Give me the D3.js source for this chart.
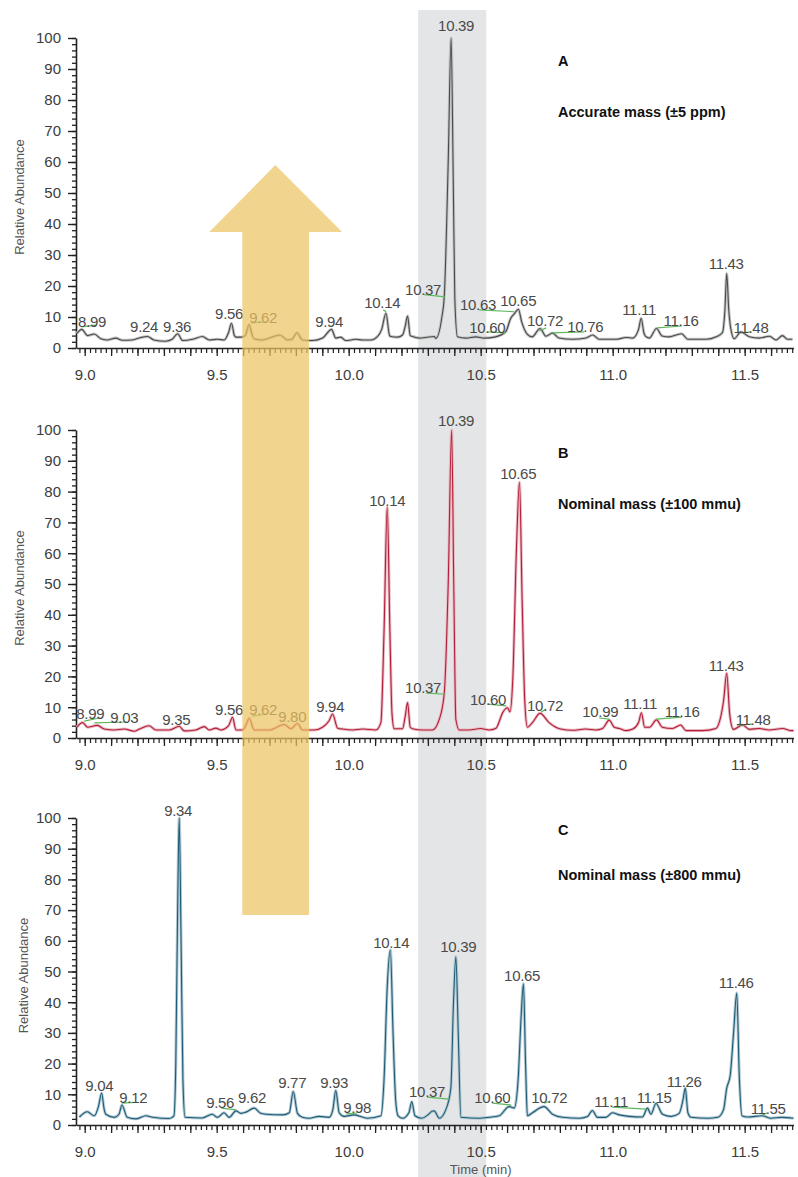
<!DOCTYPE html>
<html>
<head>
<meta charset="utf-8">
<script src="https://cdn.jsdelivr.net/npm/d3@7"></script>
<style>
  html, body { margin: 0; padding: 0; background: #fff; }
  #chart svg { display: block; }
  .tick-label { font-family: "Liberation Sans", Arial, sans-serif; font-size: 15px; fill: #3c3c3c; }
  .peak-label { font-family: "Liberation Sans", Arial, sans-serif; font-size: 15px; fill: #4a4a4a; letter-spacing: -0.3px; }
  .axis-title { font-family: "Liberation Sans", Arial, sans-serif; font-size: 13px; fill: #555; }
  .panel-letter, .panel-title { font-family: "Liberation Sans", Arial, sans-serif; font-weight: bold; font-size: 14.5px; fill: #111; }
</style>
</head>
<body>
<div id="chart"></div>
<script>
// --- 1. DATA ---

// retention time window shared by all three traces
const timeDomain = [8.967, 11.685];
const xTickLabels = [9.0, 9.5, 10.0, 10.5, 11.0, 11.5];
const yTickLabels = [0, 10, 20, 30, 40, 50, 60, 70, 80, 90, 100];

// highlighted window around the 10.39 min peak
const highlightWindow = [10.263, 10.521];

// big arrow: shaft / head edges in minutes, heights in relative abundance
const arrowShaft = [9.597, 9.850];
const arrowHead = [9.472, 9.975, 9.722];
const arrowLevels = { tipA: 59, headBaseA: 37.4, tailC: 68.4 };

const panelLetters = ["A", "B", "C"];
const panelTitles = ["Accurate mass (\u00b15 ppm)", "Nominal mass (\u00b1100 mmu)", "Nominal mass (\u00b1800 mmu)"];

// traces: [time (min), relative abundance]
const traceA = [
  [8.970,4.7],[8.989,6.0],[9.011,4.0],[9.036,4.5],[9.061,3.0],[9.085,2.6],[9.118,3.2],[9.142,2.5],[9.180,2.6],
  [9.213,3.4],[9.238,3.7],[9.262,2.6],[9.306,2.2],[9.331,2.8],[9.352,4.6],[9.371,2.4],[9.409,2.8],[9.446,3.7],
  [9.472,2.6],[9.503,2.8],[9.528,2.6],[9.545,5.0],[9.556,8.0],[9.567,4.0],[9.573,3.5],[9.592,3.5],[9.608,4.0],
  [9.623,7.6],[9.635,4.0],[9.642,3.0],[9.674,2.6],[9.699,3.2],[9.739,4.2],[9.768,2.6],[9.785,2.8],[9.804,4.9],
  [9.825,2.6],[9.863,2.4],[9.901,3.2],[9.935,6.0],[9.951,3.2],[9.970,3.5],[9.989,2.4],[10.027,2.8],[10.052,2.6],
  [10.084,2.6],[10.109,3.7],[10.125,6.0],[10.141,11.2],[10.155,4.0],[10.160,3.7],[10.185,3.5],[10.204,4.2],
  [10.214,7.0],[10.223,10.3],[10.233,4.0],[10.242,3.7],[10.268,3.2],[10.292,3.4],[10.324,3.7],[10.330,3.1],
  [10.353,10.0],[10.362,16.5],[10.377,60],[10.388,100],[10.396,55],[10.402,16],[10.412,3.6],[10.444,3.2],
  [10.482,3.6],[10.513,3.2],[10.557,3.6],[10.595,5.3],[10.614,9.6],[10.627,11.0],[10.643,12.5],[10.655,8.5],
  [10.677,4.4],[10.695,3.6],[10.725,6.3],[10.747,3.8],[10.772,4.8],[10.797,3.2],[10.848,2.8],[10.899,3.2],
  [10.924,4.2],[10.949,2.8],[11.013,2.8],[11.051,3.4],[11.076,3.2],[11.098,6.0],[11.108,9.6],[11.118,5.0],
  [11.124,3.8],[11.139,3.2],[11.166,6.3],[11.187,3.9],[11.212,3.6],[11.261,4.6],[11.285,2.8],[11.354,2.8],
  [11.392,3.6],[11.416,5.0],[11.425,12],[11.432,24],[11.440,12],[11.447,6.5],[11.460,3.0],[11.486,5.2],
  [11.518,3.6],[11.556,3.2],[11.594,3.8],[11.619,2.6],[11.643,4.0],[11.662,2.8],[11.681,2.8]
];

const traceB = [
  [8.970,3.5],[8.992,5.0],[9.011,3.5],[9.048,4.1],[9.074,2.9],[9.112,2.6],[9.150,2.9],[9.188,2.2],[9.207,2.9],
  [9.244,4.0],[9.270,2.6],[9.320,2.6],[9.358,3.8],[9.377,2.3],[9.421,2.6],[9.453,3.7],[9.472,2.6],[9.497,3.2],
  [9.516,2.6],[9.545,4.0],[9.560,6.7],[9.573,2.6],[9.598,2.6],[9.610,4.0],[9.623,6.4],[9.642,2.6],[9.699,2.6],
  [9.756,4.4],[9.781,3.0],[9.806,4.7],[9.825,2.6],[9.869,2.6],[9.901,3.5],[9.925,5.5],[9.939,7.8],[9.958,3.2],
  [9.977,2.9],[10.015,2.6],[10.053,2.9],[10.103,2.6],[10.122,5.0],[10.134,35],[10.146,75],[10.156,35],
  [10.164,8.0],[10.172,3.0],[10.204,3.0],[10.214,7.0],[10.223,11.5],[10.233,3.5],[10.242,3.0],[10.280,2.6],
  [10.317,2.6],[10.343,6.0],[10.362,14.5],[10.377,50],[10.390,100],[10.398,50],[10.406,6.0],[10.419,2.6],
  [10.456,2.6],[10.500,3.1],[10.532,2.6],[10.557,3.1],[10.585,8.5],[10.601,9.8],[10.611,8.5],[10.622,20],
  [10.635,60],[10.647,83],[10.657,45],[10.667,12],[10.677,3.5],[10.696,5.0],[10.725,8.0],[10.759,5.0],
  [10.803,2.9],[10.847,2.5],[10.898,2.9],[10.936,2.6],[10.962,3.1],[10.987,5.8],[11.006,3.5],[11.025,3.1],
  [11.051,2.4],[11.076,2.9],[11.098,5.0],[11.109,8.2],[11.121,3.5],[11.140,3.5],[11.166,5.9],[11.188,3.5],
  [11.226,3.1],[11.258,4.2],[11.277,2.4],[11.340,2.4],[11.391,3.1],[11.403,4.9],[11.420,12],[11.432,21],
  [11.443,8.0],[11.457,2.8],[11.492,4.2],[11.518,2.8],[11.555,3.1],[11.593,2.6],[11.644,3.1],[11.675,2.4],
  [11.685,2.4]
];

const traceC = [
  [8.980,2.6],[9.010,4.3],[9.036,3.0],[9.052,6.0],[9.064,10.4],[9.074,5.0],[9.080,3.5],[9.112,2.5],[9.130,3.5],
  [9.141,6.5],[9.161,2.5],[9.195,2.0],[9.232,3.0],[9.257,2.5],[9.320,2.1],[9.338,3.0],[9.345,20],[9.352,70],
  [9.358,100],[9.365,60],[9.372,15],[9.380,2.5],[9.445,2.3],[9.483,3.5],[9.503,2.5],[9.528,4.0],[9.547,2.5],
  [9.573,4.6],[9.592,3.8],[9.611,4.2],[9.642,5.5],[9.667,3.8],[9.687,3.5],[9.750,3.3],[9.775,4.0],[9.790,10.9],
  [9.806,3.8],[9.825,2.5],[9.850,2.2],[9.888,2.8],[9.926,2.5],[9.940,5.0],[9.951,11.2],[9.964,4.0],[9.983,2.8],
  [10.021,3.3],[10.071,2.2],[10.122,3.0],[10.134,15],[10.146,45],[10.158,57],[10.168,30],[10.178,8.0],
  [10.187,3.0],[10.204,2.2],[10.228,4.0],[10.239,7.6],[10.251,3.0],[10.277,2.2],[10.300,3.3],[10.316,4.5],
  [10.324,4.6],[10.343,2.2],[10.368,5.0],[10.387,12.0],[10.397,40],[10.406,54.8],[10.415,30],[10.425,2.5],
  [10.495,2.2],[10.532,2.5],[10.570,3.0],[10.608,6.0],[10.627,5.5],[10.642,15],[10.653,35],[10.662,46],
  [10.670,20],[10.677,3.0],[10.696,4.0],[10.740,6.0],[10.772,3.5],[10.810,2.5],[10.873,2.2],[10.905,2.8],
  [10.923,4.7],[10.942,2.5],[10.974,2.5],[10.999,4.0],[11.025,3.3],[11.063,2.8],[11.113,2.6],[11.132,5.5],
  [11.145,3.5],[11.164,7.0],[11.189,3.5],[11.221,2.8],[11.252,3.8],[11.266,8.0],[11.275,12.0],[11.285,4.0],
  [11.297,2.5],[11.360,2.2],[11.398,2.5],[11.420,5.0],[11.432,12],[11.445,16],[11.458,30],[11.470,43],
  [11.480,15],[11.490,3.0],[11.511,2.6],[11.566,3.0],[11.600,2.2],[11.640,2.5],[11.685,2.2]
];

// peak labels: [text, time of text centre, abundance of text baseline]
const labelsA = [
  ["8.99",9.028,6.8],["9.24",9.225,5.2],["9.36",9.350,5.2],["9.56",9.547,9.4],["9.62",9.676,8.1],
  ["9.94",9.926,6.8],["10.14",10.127,12.9],["10.37",10.282,17.2],["10.39",10.407,102.3],["10.63",10.490,12.3],
  ["10.65",10.642,13.6],["10.60",10.525,4.9],["10.72",10.744,7.1],["10.76",10.896,5.2],["11.11",11.100,10.7],
  ["11.16",11.259,7.1],["11.43",11.430,25.6],["11.48",11.524,4.9]
];
const labelsB = [
  ["8.99",9.021,6.1],["9.03",9.150,4.9],["9.35",9.347,4.2],["9.56",9.547,7.4],["9.62",9.676,7.4],
  ["9.80",9.786,5.2],["9.94",9.930,8.4],["10.14",10.146,75.4],["10.37",10.282,14.6],["10.39",10.407,101.3],
  ["10.65",10.642,84.1],["10.60",10.528,10.7],["10.72",10.744,8.7],["10.99",10.953,6.8],["11.11",11.104,9.4],
  ["11.16",11.263,6.8],["11.43",11.430,21.7],["11.48",11.532,4.2]
];
const labelsC = [
  ["9.04",9.055,11.0],["9.12",9.184,7.1],["9.34",9.354,100.6],["9.56",9.513,5.5],["9.62",9.634,7.1],
  ["9.77",9.786,12.0],["9.93",9.945,12.0],["9.98",10.032,3.9],["10.14",10.161,57.6],["10.37",10.297,9.1],
  ["10.39",10.415,56.3],["10.65",10.657,46.9],["10.60",10.544,7.1],["10.72",10.760,7.1],["11.11",10.994,5.8],
  ["11.15",11.157,7.1],["11.26",11.271,12.3],["11.46",11.468,44.7],["11.55",11.589,3.6]
];

// green label leaders: [t1, v1, t2, v2]
const leadersA = [
  [8.987,6.8,9.044,7.4],[9.631,8.1,9.688,8.4],[10.131,12.3,10.142,11.7],[10.286,17.2,10.365,16.5],
  [10.494,12.3,10.627,11.7],[10.525,5.2,10.593,4.9],[10.722,5.5,10.748,6.5],[10.767,4.9,10.892,5.2],
  [11.168,6.5,11.263,7.1],[11.487,4.9,11.525,5.2]
];
const leadersB = [
  [8.998,5.5,9.055,6.5],[9.036,4.9,9.161,5.2],[9.634,7.1,9.688,7.8],[10.294,14.6,10.366,14.2],
  [10.525,11.0,10.597,10.4],[10.729,8.4,10.748,9.4],[10.949,6.5,10.987,6.1],[11.165,6.1,11.263,6.8],
  [11.471,4.2,11.528,4.5]
];
const leadersC = [
  [9.142,7.1,9.188,7.4],[9.517,5.5,9.574,4.9],[9.991,3.6,10.032,3.9],[10.297,9.1,10.380,8.4],
  [10.544,7.1,10.616,6.5],[10.741,7.1,10.763,7.8],[10.998,5.8,11.127,5.2],[11.566,3.2,11.585,3.9]
];

(function () {
    'use strict';

    // --- 2. LAYOUT ---
    const W = 798, H = 1177;
    const axisX = 76, plotRight = 793.5;

    const panels = [
        { trace: traceA, labels: labelsA, leaders: leadersA, top: 38, bottom: 348, line: "#4a4a4a", halo: "#c4c4c4" },
        { trace: traceB, labels: labelsB, leaders: leadersB, top: 430, bottom: 738, line: "#b31f3a", halo: "#e8b9c1" },
        { trace: traceC, labels: labelsC, leaders: leadersC, top: 818, bottom: 1125, line: "#1d5d77", halo: "#b3c8d2" }
    ];

    const svg = d3.select("#chart").append("svg")
        .attr("width", W).attr("height", H)
        .attr("viewBox", `0 0 ${W} ${H}`);

    svg.append("rect").attr("width", W).attr("height", H).attr("fill", "#fff");

    // --- 3. SCALES ---
    const x = d3.scaleLinear().domain(timeDomain).range([axisX, plotRight]);
    panels.forEach(p => {
        p.y = d3.scaleLinear().domain([0, 100]).range([p.bottom, p.top]);
    });

    // --- 4. HIGHLIGHT BAND (behind everything) ---
    svg.append("rect")
        .attr("x", x(highlightWindow[0]))
        .attr("width", x(highlightWindow[1]) - x(highlightWindow[0]))
        .attr("y", 10).attr("height", H - 10)
        .attr("fill", "#e4e5e7");

    const line = d3.line().x(d => x(d[0])).curve(d3.curveMonotoneX);

    // --- 5. PANELS ---
    panels.forEach((p, i) => {
        const g = svg.append("g");
        const y = p.y;

        // y axis: minor every 2, major every 10
        g.append("g").attr("transform", `translate(${axisX},0)`)
            .call(d3.axisLeft(y).tickValues(d3.range(0, 101, 2)).tickSize(4).tickFormat(""))
            .call(a => a.select(".domain").remove())
            .call(a => a.selectAll("line").attr("stroke", "#222").attr("stroke-width", 1.3));
        const yAxis = g.append("g").attr("transform", `translate(${axisX},0)`)
            .call(d3.axisLeft(y).tickValues(yTickLabels).tickSize(8).tickPadding(7).tickSizeOuter(0));
        yAxis.select(".domain").attr("stroke", "#222").attr("stroke-width", 1.6);
        yAxis.selectAll("line").attr("stroke", "#222").attr("stroke-width", 1.4);
        yAxis.selectAll("text").attr("class", "tick-label").attr("font-size", null).attr("font-family", null).attr("fill", null);

        // x axis: minor 0.02, medium 0.1, labels 0.5
        const minorT = d3.range(8.98, 11.69, 0.02).map(v => +v.toFixed(2));
        const mediumT = d3.range(9.0, 11.69, 0.1).map(v => +v.toFixed(1));
        g.append("g").attr("transform", `translate(0,${p.bottom})`)
            .call(d3.axisBottom(x).tickValues(minorT).tickSize(5).tickFormat(""))
            .call(a => a.select(".domain").remove())
            .call(a => a.selectAll("line").attr("stroke", "#222").attr("stroke-width", 1.2));
        g.append("g").attr("transform", `translate(0,${p.bottom})`)
            .call(d3.axisBottom(x).tickValues(mediumT).tickSize(8).tickFormat(""))
            .call(a => a.select(".domain").remove())
            .call(a => a.selectAll("line").attr("stroke", "#222").attr("stroke-width", 1.3));
        const xAxis = g.append("g").attr("transform", `translate(0,${p.bottom})`)
            .call(d3.axisBottom(x).tickValues(xTickLabels).tickSize(0).tickPadding(21).tickSizeOuter(0).tickFormat(d3.format(".1f")));
        xAxis.select(".domain").attr("stroke", "#222").attr("stroke-width", 1.6);
        xAxis.selectAll("text").attr("class", "tick-label").attr("font-size", null).attr("font-family", null).attr("fill", null);

        // y axis title
        g.append("text").attr("class", "axis-title")
            .attr("transform", `translate(${i === 2 ? 23 : 19},${(p.top + p.bottom) / 2 + 4}) rotate(-90)`)
            .attr("text-anchor", "middle").attr("dy", "0.35em")
            .text("Relative Abundance");

        // trace: soft halo + core line
        line.y(d => y(d[1]));
        g.append("path").datum(p.trace).attr("d", line)
            .attr("fill", "none").attr("stroke", p.halo).attr("stroke-width", 3).attr("stroke-linejoin", "round");
        g.append("path").datum(p.trace).attr("d", line)
            .attr("fill", "none").attr("stroke", p.line).attr("stroke-width", 1.1).attr("stroke-linejoin", "round");

        // green leaders
        g.selectAll(".leader").data(p.leaders).enter().append("line")
            .attr("x1", d => x(d[0])).attr("y1", d => y(d[1]))
            .attr("x2", d => x(d[2])).attr("y2", d => y(d[3]))
            .attr("stroke", "#5cb85c").attr("stroke-width", 1.2);

        // peak labels
        g.selectAll(".peak-label").data(p.labels).enter().append("text")
            .attr("class", "peak-label")
            .attr("x", d => x(d[1])).attr("y", d => y(d[2]))
            .attr("text-anchor", "middle")
            .text(d => d[0]);

        // panel letter + title
        g.append("text").attr("class", "panel-letter")
            .attr("x", 558).attr("y", p.top + (i === 2 ? 17 : 28))
            .text(panelLetters[i]);
        g.append("text").attr("class", "panel-title")
            .attr("x", 558).attr("y", p.top + (i === 2 ? 62 : 79))
            .text(panelTitles[i]);
    });

    // x axis title
    svg.append("text").attr("class", "axis-title")
        .attr("x", x(10.5)).attr("y", 1174)
        .attr("text-anchor", "middle").attr("font-size", "13.5px")
        .text("Time (min)");

    // --- 6. BIG ARROW (on top, semi-transparent) ---
    const yA = panels[0].y, yC = panels[2].y;
    const arrowPts = [
        [x(arrowShaft[0]), yC(arrowLevels.tailC)],
        [x(arrowShaft[0]), yA(arrowLevels.headBaseA)],
        [x(arrowHead[0]), yA(arrowLevels.headBaseA)],
        [x(arrowHead[2]), yA(arrowLevels.tipA)],
        [x(arrowHead[1]), yA(arrowLevels.headBaseA)],
        [x(arrowShaft[1]), yA(arrowLevels.headBaseA)],
        [x(arrowShaft[1]), yC(arrowLevels.tailC)]
    ];
    svg.append("polygon")
        .attr("points", arrowPts.map(d => d.join(",")).join(" "))
        .attr("fill", "#ecc462").attr("fill-opacity", 0.72);
})();
</script>
</body>
</html>
